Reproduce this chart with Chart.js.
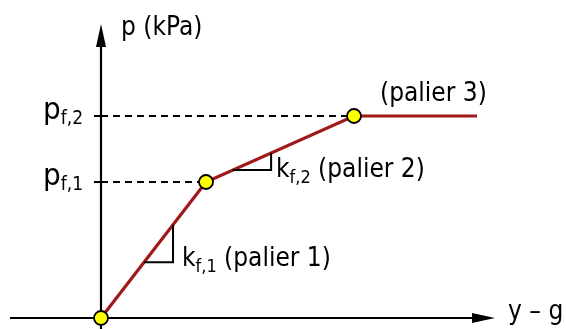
<!DOCTYPE html>
<html>
<head>
<meta charset="utf-8">
<script src="https://cdn.jsdelivr.net/npm/chart.js@4/dist/chart.umd.min.js"></script>
<style>
  html, body { margin: 0; padding: 0; background: #ffffff; }
  #wrap { width: 566px; height: 329px; }
</style>
</head>
<body>
<div id="wrap"><canvas id="c" width="566" height="329"></canvas></div>
<script>
// Trilinear p – (y − g) law: three plateaus joined by two break points
const deflection = [0, 10.5, 25.3, 37.6];   // y − g
const pressure   = [0, 13.6, 20.2, 20.2];   // p (kPa)
const breakPointIdx = [1, 2];                // p_f,1 and p_f,2
const tickLabels = [
  { main: 'p', sub: 'f,1' },
  { main: 'p', sub: 'f,2' }
];
const slopeLabels = [
  { main: 'k', sub: 'f,1', rest: ' (palier 1)' },
  { main: 'k', sub: 'f,2', rest: ' (palier 2)' }
];
const plateau3Label = '(palier 3)';
const yAxisTitle = 'p (kPa)';
const xAxisTitle = 'y – g';

const FONT = "'DejaVu Sans Condensed', 'DejaVu Sans', sans-serif";
const RED = '#a01818';

const curve = deflection.map((x, i) => ({ x, y: pressure[i] }));

const dashed = breakPointIdx.map(i => ({
  data: [{ x: 0, y: pressure[i] }, { x: deflection[i], y: pressure[i] }],
  borderColor: '#000000',
  borderWidth: 2,
  borderDash: [7, 5],
  pointRadius: 0,
  fill: false
}));

function subText(ctx, x, y, parts) {
  // parts: [{t, size, dy}]
  let cx = x;
  parts.forEach(p => {
    ctx.font = p.size + 'px ' + FONT;
    ctx.fillText(p.t, cx, y + (p.dy || 0));
    cx += ctx.measureText(p.t).width;
  });
}

const schematic = {
  id: 'schematic',
  beforeDatasetsDraw(chart) {
    const { ctx, scales: { x, y }, height } = chart;
    const ox = x.getPixelForValue(0), oy = y.getPixelForValue(0);
    ctx.save();
    ctx.strokeStyle = '#000';
    ctx.fillStyle = '#000';
    ctx.lineWidth = 2.2;
    // x axis with arrow
    ctx.beginPath();
    ctx.moveTo(10, oy);
    ctx.lineTo(476, oy);
    ctx.stroke();
    ctx.beginPath();
    ctx.moveTo(495, oy);
    ctx.lineTo(472, oy - 5);
    ctx.lineTo(472, oy + 5);
    ctx.closePath();
    ctx.fill();
    // y axis with arrow
    ctx.beginPath();
    ctx.moveTo(ox, height);
    ctx.lineTo(ox, 44);
    ctx.stroke();
    ctx.beginPath();
    ctx.moveTo(ox, 24);
    ctx.lineTo(ox - 5, 47);
    ctx.lineTo(ox + 5, 47);
    ctx.closePath();
    ctx.fill();
    // ticks at the break pressures
    ctx.lineWidth = 2;
    breakPointIdx.forEach(i => {
      const py = y.getPixelForValue(pressure[i]);
      ctx.beginPath();
      ctx.moveTo(ox - 7, py);
      ctx.lineTo(ox, py);
      ctx.stroke();
    });
    ctx.restore();
  },
  afterDatasetsDraw(chart) {
    const { ctx, scales: { x, y } } = chart;
    const ox = x.getPixelForValue(0), oy = y.getPixelForValue(0);
    const px = i => x.getPixelForValue(deflection[i]);
    const py = i => y.getPixelForValue(pressure[i]);
    const lerp = (i, t) => ({
      x: px(i) + (px(i + 1) - px(i)) * t,
      y: py(i) + (py(i + 1) - py(i)) * t
    });
    ctx.save();
    // slope triangles
    ctx.strokeStyle = '#000';
    ctx.lineWidth = 2;
    [[0, 0.41, 0.686], [1, 0.18, 0.44]].forEach(([i, t0, t1]) => {
      const a = lerp(i, t0), b = lerp(i, t1);
      ctx.beginPath();
      ctx.moveTo(a.x, a.y);
      ctx.lineTo(b.x, a.y);
      ctx.lineTo(b.x, b.y);
      ctx.stroke();
    });
    // texts
    ctx.fillStyle = '#000';
    ctx.textBaseline = 'alphabetic';
    ctx.textAlign = 'left';
    ctx.font = '26px ' + FONT;
    ctx.fillText(yAxisTitle, ox + 20, 35);
    ctx.fillText(xAxisTitle, 508, oy + 1);
    ctx.fillText(plateau3Label, px(2) + 26, py(2) - 15);
    // break pressure labels
    breakPointIdx.forEach((i, k) => {
      const lb = tickLabels[k];
      subText(ctx, 43, py(i) + 3, [
        { t: lb.main, size: 31 },
        { t: lb.sub, size: 19, dy: 5 }
      ]);
    });
    // slope labels
    const s1 = lerp(0, 0.41);
    subText(ctx, 182, s1.y + 4, [
      { t: slopeLabels[0].main, size: 26 },
      { t: slopeLabels[0].sub, size: 18, dy: 6 },
      { t: slopeLabels[0].rest, size: 26 }
    ]);
    const s2 = lerp(1, 0.18);
    subText(ctx, 276, s2.y + 7, [
      { t: slopeLabels[1].main, size: 26 },
      { t: slopeLabels[1].sub, size: 18, dy: 6 },
      { t: slopeLabels[1].rest, size: 26 }
    ]);
    ctx.restore();
  }
};

new Chart(document.getElementById('c'), {
  type: 'line',
  data: {
    datasets: [
      {
        data: curve,
        borderColor: RED,
        borderWidth: 3.2,
        pointRadius: [7, 7, 7, 0],
        pointBackgroundColor: '#ffff00',
        pointBorderColor: '#000',
        pointBorderWidth: 1.8,
        fill: false,
        tension: 0,
        clip: false
      },
      ...dashed
    ]
  },
  options: {
    responsive: false,
    animation: false,
    events: [],
    layout: { padding: 0, autoPadding: false },
    plugins: { legend: { display: false }, tooltip: { enabled: false } },
    scales: {
      x: { type: 'linear', display: false, min: -10.1, max: 46.5 },
      y: { type: 'linear', display: false, min: -1.1, max: 31.8 }
    }
  },
  plugins: [schematic]
});
</script>
</body>
</html>
